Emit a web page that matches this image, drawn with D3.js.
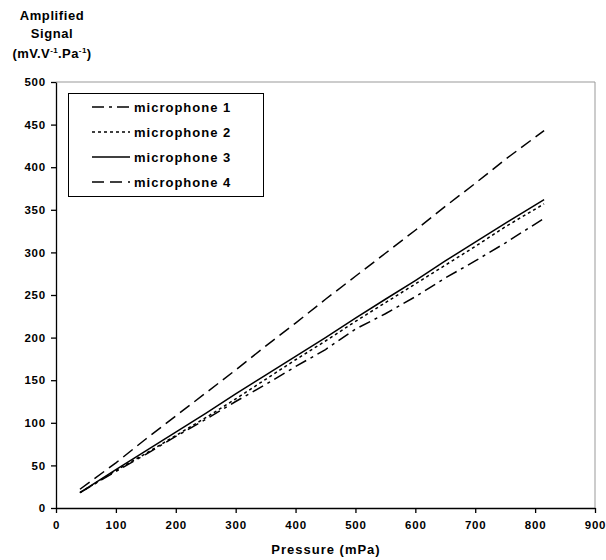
<!DOCTYPE html>
<html><head><meta charset="utf-8">
<script src="https://cdn.jsdelivr.net/npm/d3@7"></script>
<style>
body{margin:0;background:#fff;}
text{font-family:"Liberation Sans",Arial,sans-serif;font-weight:bold;fill:#000;}
</style></head>
<body>
<svg id="c" width="606" height="560"></svg>
<script>
const pressure = [40,100,150,200,250,300,350,400,450,500,550,600,650,700,750,815];
const mic1 = [18,43,63,84,104,125,145,166,186,210,228,248,270,290,311,340];
const mic2 = [18,44,64,85,106,128,151,174,196,219,241,263,285,307,330,357];
const mic3 = [18,45,67,89,111,134,156,178,200,223,245,267,290,312,334,362];
const mic4 = [22,53,81,108,135,162,190,217,245,272,299,326,354,381,409,443];
const seriesNames = ["microphone 1","microphone 2","microphone 3","microphone 4"];
const xTicks = [0,100,200,300,400,500,600,700,800,900];
const yTicks = [0,50,100,150,200,250,300,350,400,450,500];

const dashes = ["12,5,3,5","3,3",null,"12,6"];
const seriesVals = [mic1,mic2,mic3,mic4];

const svg = d3.select("#c");
const L=56,R=595,T=82,B=508;
const x = d3.scaleLinear().domain([0,900]).range([L,R]);
const y = d3.scaleLinear().domain([0,500]).range([B,T]);

svg.append("path").attr("d",`M${L},${T}H${R}V${B}`).attr("fill","none").attr("stroke","#999").attr("stroke-width",1);

const xa = svg.append("g").attr("transform",`translate(0,${B})`)
  .call(d3.axisBottom(x).tickValues(xTicks).tickSize(5).tickSizeOuter(0).tickPadding(8));
const ya = svg.append("g").attr("transform",`translate(${L},0)`)
  .call(d3.axisLeft(y).tickValues(yTicks).tickSize(5).tickSizeOuter(0).tickPadding(5));
[xa,ya].forEach(a=>{
  a.selectAll("path,line").attr("stroke","#000").attr("stroke-width",1.3);
  a.selectAll("text").attr("font-size",11.5).attr("letter-spacing","0.8px")
   .attr("font-family",'"Liberation Sans",Arial,sans-serif').attr("font-weight","bold").attr("fill","#000");
});

const line = d3.line().x((d,i)=>x(pressure[i])).y(d=>y(d));
seriesVals.forEach((vals,k)=>{
  svg.append("path").datum(vals).attr("d",line).attr("fill","none")
    .attr("stroke","#000").attr("stroke-width",1.5)
    .attr("stroke-dasharray",dashes[k]);
});

const lg = svg.append("g");
lg.append("rect").attr("x",68.5).attr("y",93.5).attr("width",195).attr("height",103)
  .attr("fill","#fff").attr("stroke","#000").attr("stroke-width",1);
seriesNames.forEach((n,k)=>{
  const yy = 107 + k*25;
  lg.append("line").attr("x1",92).attr("x2",130).attr("y1",yy).attr("y2",yy)
    .attr("stroke","#000").attr("stroke-width",1.5).attr("stroke-dasharray",dashes[k]);
  lg.append("text").attr("x",134).attr("y",yy+4.5).attr("font-size",13).attr("letter-spacing","1px").text(n);
});

svg.append("text").attr("x",326).attr("y",554).attr("text-anchor","middle")
  .attr("font-size",13).attr("letter-spacing","1px").text("Pressure (mPa)");
svg.append("text").attr("x",52).attr("y",20).attr("text-anchor","middle").attr("font-size",13).attr("letter-spacing","0.6px").text("Amplified");
svg.append("text").attr("x",52).attr("y",38).attr("text-anchor","middle").attr("font-size",13).attr("letter-spacing","0.6px").text("Signal");
const t3 = svg.append("text").attr("x",52).attr("y",58).attr("text-anchor","middle").attr("font-size",13).attr("letter-spacing","0.4px");
t3.append("tspan").text("(mV.V");
t3.append("tspan").attr("font-size",8).attr("dy",-5).text("-1");
t3.append("tspan").attr("dy",5).text(".Pa");
t3.append("tspan").attr("font-size",8).attr("dy",-5).text("-1");
t3.append("tspan").attr("dy",5).text(")");
</script>
</body></html>
